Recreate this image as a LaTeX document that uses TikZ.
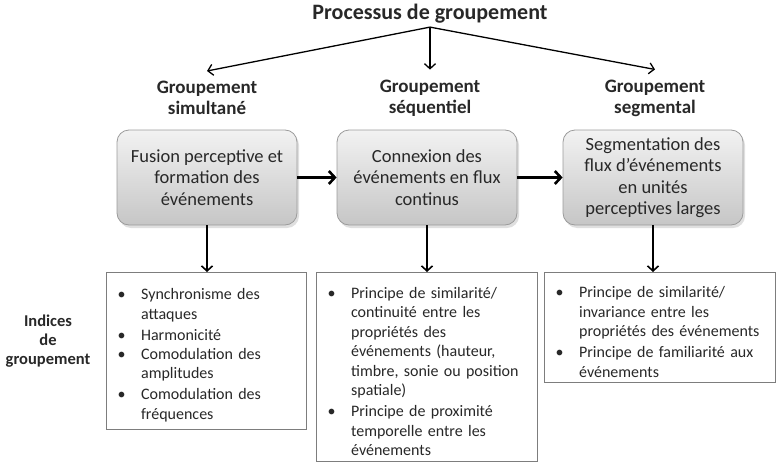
\documentclass[tikz,border=0pt]{standalone}
\usepackage{fontspec}
\setmainfont{Carlito}
\usetikzlibrary{arrows.meta,positioning,shadows}
\definecolor{grtext}{RGB}{40,40,40}
\definecolor{grborder}{RGB}{155,155,155}
\definecolor{grtop}{RGB}{242,242,242}
\definecolor{grbottom}{RGB}{198,198,198}
\definecolor{grline}{RGB}{125,125,125}
\newcommand{\puce}[1]{\par\baselineskip=19.5pt\noindent\makebox[23.5pt][l]{\textbullet}%
  \parbox[t]{\dimexpr\linewidth-23.5pt\relax}{\raggedright\baselineskip=19.5pt #1}}
\newcommand{\itemgap}{\par\prevdepth=4pt\vspace{3pt}}

\begin{document}
\begin{tikzpicture}[x=1pt, y=-1pt,
    titlebox/.style={font=\fontsize{22}{26}\selectfont\bfseries, text=grtext},
    headbox/.style={font=\fontsize{19}{21}\selectfont\bfseries, align=center,
                    inner ysep=10pt, text=grtext},
    procbox/.style={draw=grborder, thick, rounded corners=12pt, top color=grtop,
                    bottom color=grbottom, minimum width=180pt, minimum height=95pt,
                    align=center, text=grtext,
                    font=\fontsize{18.5}{21.5}\selectfont,
                    drop shadow={shadow xshift=2pt, shadow yshift=-3pt, opacity=0.25}},
    cuebox/.style={draw=grline, line width=1.2pt, fill=white, anchor=north west,
                   inner xsep=11pt, text=grtext,
                   font=\fontsize{16}{19.5}\selectfont},
    fork/.style={-{Straight Barb[length=5pt,width=11pt]}, line width=1.3pt},
    link/.style={-{Straight Barb[length=6pt,width=13pt]}, line width=2.6pt},
    downarrow/.style={-{Straight Barb[length=5pt,width=11pt]}, line width=1.6pt}]
\useasboundingbox (0,0) rectangle (781,471);
% Top: process and its three kinds
\node[titlebox] (title) at (430,14) {Processus de groupement};
\node[headbox] (h1) at (207,98) {Groupement\\simultané};
\node[headbox] (h2) at (430,98) {Groupement\\séquentiel};
\node[headbox] (h3) at (655,98) {Groupement\\segmental};
\draw[fork] (title.south) -- (h1.north);
\draw[fork] (title.south) -- (h2.north);
\draw[fork] (title.south) -- (h3.north);
% Middle: grouping stages
\node[procbox] (p1) at (207,177.5) {Fusion perceptive et\\formation des\\événements};
\node[procbox] (p2) at (427,177.5) {Connexion des\\événements en flux\\continus};
\node[procbox] (p3) at (653,177.5) {Segmentation des\\flux d’événements\\en unités\\perceptives larges};
\draw[link] (p1) -- (p2);
\draw[link] (p2) -- (p3);
% Bottom: grouping cues
\node[font=\fontsize{16.5}{19}\selectfont\bfseries, align=center, text=grtext]
  (cues) at (48,341) {Indices\\de\\groupement};
\node[cuebox, text width=178pt, minimum height=157pt] (c1) at (106,272) {%
  \puce{Synchronisme des\\attaques}\itemgap
  \puce{Harmonicité}\itemgap
  \puce{Comodulation des\\amplitudes}\itemgap
  \puce{Comodulation des\\fréquences}};
\node[cuebox, text width=199pt, minimum height=189pt] (c2) at (316,272) {%
  \puce{Principe de similarité/\\continuité entre les\\propriétés des\\événements (hauteur,\\timbre, sonie ou position\\spatiale)}\itemgap
  \puce{Principe de proximité\\temporelle entre les\\événements}};
\node[cuebox, text width=209pt, minimum height=110pt] (c3) at (544,272) {%
  \puce{Principe de similarité/\\invariance entre les\\propriétés des événements}\itemgap
  \puce{Principe de familiarité aux\\événements}};
\draw[downarrow] (p1.south) -- (p1.south |- c1.north);
\draw[downarrow] (p2.south) -- (p2.south |- c2.north);
\draw[downarrow] (p3.south) -- (p3.south |- c3.north);
\end{tikzpicture}
\end{document}
